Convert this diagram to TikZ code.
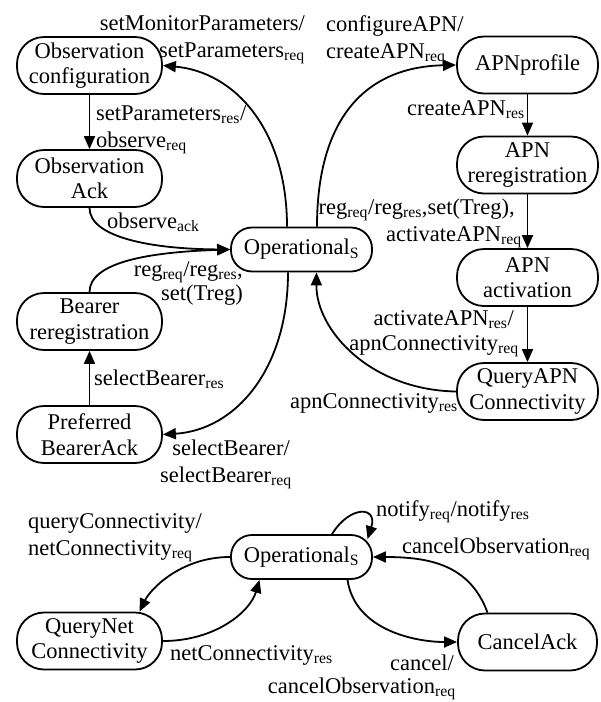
\documentclass[tikz,border=0pt]{standalone}
\usepackage{fontspec}
\setmainfont{Liberation Serif}
\usetikzlibrary{arrows.meta}
\newcommand\sbs[1]{\textsubscript{#1}}
\begin{document}
\begin{tikzpicture}[x=1pt,y=-1pt,
  state/.style={draw, line width=1.8pt, rounded corners=27pt, minimum width=145pt, minimum height=57pt, align=center, inner sep=0pt, font=\fontsize{22.5}{25.5}\selectfont},
  rstate/.style={state, minimum width=141pt},
  opstate/.style={state, minimum width=141pt, minimum height=44pt, rounded corners=21pt},
  lbl/.style={inner sep=0pt, font=\fontsize{22.5}{25.5}\selectfont},
  tr/.style={line width=1.8pt, -{Triangle[length=13pt,width=11pt]}}
]
\useasboundingbox (0,0) rectangle (601,702);
% nodes
\node[state] (oc) at (89.5,65.5) {Observation\\configuration};
\node[state] (oa) at (89.5,178.5) {Observation\\Ack};
\node[opstate] (op1) at (301.5,249.5) {Operational\sbs{S}};
\node[state] (br) at (89.5,321.5) {Bearer\\reregistration};
\node[state] (pb) at (89.5,434.5) {Preferred\\BearerAck};
\node[rstate] (ap) at (527.5,65) {APNprofile};
\node[rstate] (ar) at (527.5,165) {APN\\reregistration};
\node[rstate] (aa) at (527.5,277.5) {APN\\activation};
\node[rstate] (qa) at (527.5,391.5) {QueryAPN\\Connectivity};
\node[opstate] (op2) at (301.5,557) {Operational\sbs{S}};
\node[state] (qn) at (89.5,641) {QueryNet\\Connectivity};
\node[rstate, minimum width=139pt] (ca) at (527.5,642) {CancelAck};
% connectors, top part
\draw[tr] (oc.south) -- (oa.north);
\draw[tr] (oa.south) .. controls (89.5,237) and (150,249) .. (op1.west);
\draw[tr] ([xshift=-14.5pt]op1.north) .. controls (287,130) and (235,72) .. (oc.east);
\draw[tr] ([xshift=15.5pt]op1.north) .. controls (317,125) and (360,67) .. (ap.west);
\draw[tr] ([xshift=-13.5pt]op1.south) .. controls (288,370) and (235,430) .. (pb.east);
\draw[tr] (qa.west) .. controls (370,390) and (316,330) .. ([xshift=15pt]op1.south);
\draw[tr] (br.north) .. controls (89.5,262) and (150,252) .. (op1.west);
\draw[tr] (pb.north) -- (br.south);
\draw[tr] (ap.south) -- (ar.north);
\draw[tr] (ar.south) -- (aa.north);
\draw[tr] (aa.south) -- (qa.north);
% connectors, bottom part
\draw[tr] ([xshift=30.5pt]op2.north) .. controls (350,505) and (378,506) .. ([xshift=66pt,yshift=-5pt]op2.north);
\draw[tr] ([xshift=-40pt]ca.north) .. controls (470,565) and (430,557) .. (op2.east);
\draw[tr] ([xshift=46pt]op2.south) .. controls (355,630) and (415,642) .. (ca.west);
\draw[tr] (op2.west) .. controls (180,557) and (150,590) .. ([xshift=50pt]qn.north);
\draw[tr] (qn.east) .. controls (215,641) and (250,612) .. ([xshift=-42pt]op2.south);
% labels
\node[lbl, anchor=base east] (l1a) at (305,30) {setMonitorParameters/};
\node[lbl, anchor=base east] (l1b) at (305,57) {setParameters\sbs{req}};
\node[lbl, anchor=base west] (l2a) at (326,31) {configureAPN/};
\node[lbl, anchor=base west] (l2b) at (326,58) {createAPN\sbs{req}};
\node[lbl, anchor=base west] (l3a) at (96,120) {setParameters\sbs{res}/};
\node[lbl, anchor=base west] (l3b) at (96,147) {observe\sbs{req}};
\node[lbl, anchor=base east] (l4) at (525,115) {createAPN\sbs{res}};
\node[lbl, anchor=base west] (l5) at (107,228) {observe\sbs{ack}};
\node[lbl, anchor=base east] (l6a) at (515,214) {reg\sbs{req}/reg\sbs{res},set(Treg),};
\node[lbl, anchor=base east] (l6b) at (522,241) {activateAPN\sbs{req}};
\node[lbl, anchor=base east] (l7a) at (243,276) {reg\sbs{req}/reg\sbs{res},};
\node[lbl, anchor=base east] (l7b) at (243,300) {set(Treg)};
\node[lbl, anchor=base east] (l8a) at (514,325) {activateAPN\sbs{res}/};
\node[lbl, anchor=base east] (l8b) at (519,350) {apnConnectivity\sbs{req}};
\node[lbl, anchor=base east] (l9) at (458,408) {apnConnectivity\sbs{res}};
\node[lbl, anchor=base west] (l10) at (94,385) {selectBearer\sbs{res}};
\node[lbl, anchor=base east] (l11a) at (290,455) {selectBearer/};
\node[lbl, anchor=base east] (l11b) at (292,482) {selectBearer\sbs{req}};
\node[lbl, anchor=base west] (l12a) at (28,528) {queryConnectivity/};
\node[lbl, anchor=base west] (l12b) at (28,555) {netConnectivity\sbs{req}};
\node[lbl, anchor=base west] (l13) at (376,516) {notify\sbs{req}/notify\sbs{res}};
\node[lbl, anchor=base west] (l14) at (402,553) {cancelObservation\sbs{req}};
\node[lbl, anchor=base west] (l15) at (170,660) {netConnectivity\sbs{res}};
\node[lbl, anchor=base east] (l16a) at (454,670) {cancel/};
\node[lbl, anchor=base east] (l16b) at (456,693) {cancelObservation\sbs{req}};
\end{tikzpicture}
\end{document}
